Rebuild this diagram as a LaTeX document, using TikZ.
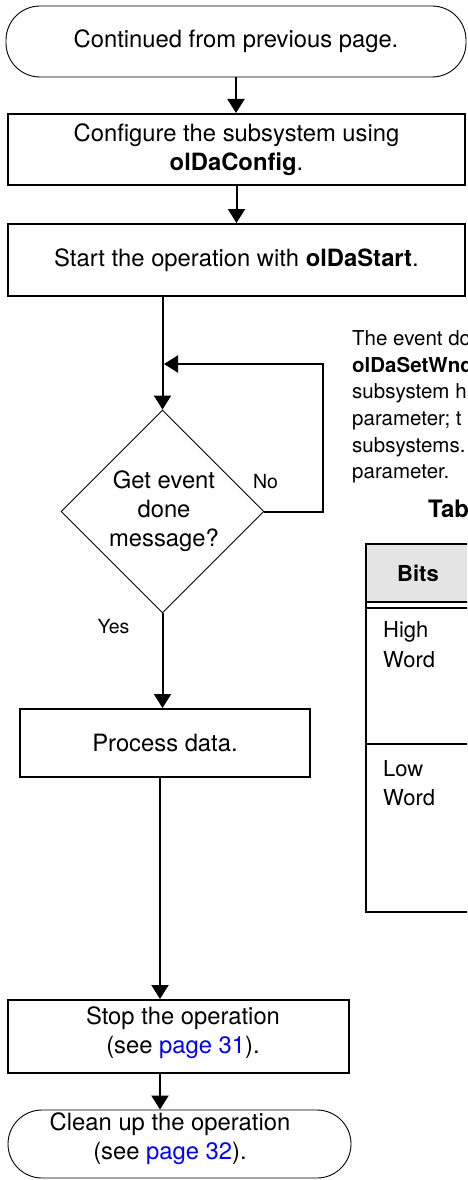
\documentclass[tikz,border=0pt]{standalone}
\usepackage{fontspec}
\setmainfont{TeX Gyre Heros}
\usetikzlibrary{shapes.geometric,arrows.meta}
\definecolor{linkblue}{RGB}{0,0,255}
\definecolor{headgray}{RGB}{229,229,229}
\begin{document}
\begin{tikzpicture}[x=1pt,y=-1pt,
  txt/.style={font=\fontsize{23.8}{29}\selectfont, align=center},
  procbox/.style={draw, line width=2pt, rectangle, inner sep=0pt, txt},
  term/.style={draw, line width=0.9pt, rounded corners=34pt, inner sep=0pt, txt},
  decision/.style={draw, line width=0.9pt, diamond, inner sep=0pt, minimum width=203pt, minimum height=203pt},
  arr/.style={line width=2pt, -{Triangle[length=14pt,width=17pt]}},
  lbl/.style={font=\fontsize{19.5}{23}\selectfont, inner sep=0pt},
  para/.style={font=\fontsize{20.5}{26.7}\selectfont, anchor=base west, inner sep=0pt},
  tbltxt/.style={font=\fontsize{22}{26}\selectfont, anchor=base west, inner sep=0pt},
]
\useasboundingbox (0,0) rectangle (467,1180);
\begin{scope}
\clip (0,0) rectangle (467,1180);

% flowchart nodes
\node[term, minimum width=460pt, minimum height=71pt] (start) at (236,41.5) {Continued from previous page.};
\node[procbox, minimum width=457pt, minimum height=71pt] (config) at (236.5,149.5) {Configure the subsystem using\\\textbf{olDaConfig}.};
\node[procbox, minimum width=457pt, minimum height=72pt] (startop) at (236.5,260) {Start the operation with \textbf{olDaStart}.};
\node[decision, label={[txt, xshift=1.5pt]center:Get event\\done\\message?}] (dec) at (162.5,511.5) {};
\node[lbl] (nolbl) at (265.5,482) {No};
\node[lbl] (yeslbl) at (113.5,627) {Yes};
\node[procbox, minimum width=290pt, minimum height=68pt] (proc) at (165,743) {Process data.};
\node[procbox, minimum width=341pt, minimum height=73pt, label={[txt, xshift=4.5pt, yshift=3.5pt]center:Stop the operation\\(see \textcolor{linkblue}{page 31}).}] (stop) at (178.5,1036.5) {};
\node[term, minimum width=343pt, minimum height=68pt, label={[txt, xshift=-9.5pt, yshift=5pt]center:Clean up the operation\\(see \textcolor{linkblue}{page 32}).}] (clean) at (179.5,1144) {};

% connectors
\coordinate (loopc) at (323,364);
\coordinate (loopin) at (164,364);
\coordinate (mainx) at (160,0);
\draw[arr] (start.south) -- (start.south |- config.north);
\draw[arr] (config.south) -- (config.south |- startop.north);
\draw[arr] (startop.south -| dec.north) -- (dec.north);
\draw[arr] (dec.east) -| (loopc) -- (loopin);
\draw[arr] (dec.south) -- (dec.south |- proc.north);
\draw[arr] (proc.south -| mainx) -- (stop.north -| mainx);
\draw[arr] (stop.south -| mainx) -- (clean.north -| mainx);

% right-hand text (cut off at the page edge)
\node[para] (p1) at (352,345) {The event do};
\node[para] (p2) at (352,372) {\textbf{olDaSetWnd}};
\node[para] (p3) at (352,398.5) {subsystem h};
\node[para] (p4) at (352,425) {parameter; t};
\node[para] (p5) at (352,452) {subsystems.};
\node[para] (p6) at (352,478.5) {parameter.};
\node[para, font=\bfseries\fontsize{24}{28}\selectfont] (tabhead) at (428,517) {Tab};

% table fragment
\fill[headgray] (366,544) rectangle (480,602);
\draw[line width=2pt] (480,544) -- (366,544) -- (366,912) -- (480,912);
\draw[line width=2pt] (366,602) -- (480,602);
\draw[line width=2pt] (366,608) -- (480,608);
\draw[line width=2pt] (366,744) -- (480,744);
\node[tbltxt, font=\bfseries\fontsize{22}{26}\selectfont] (bits) at (397,581) {Bits};
\node[tbltxt] (high) at (383,637) {High};
\node[tbltxt] (word1) at (383,667) {Word};
\node[tbltxt] (low) at (383,776) {Low};
\node[tbltxt] (word2) at (383,805) {Word};
\end{scope}
\end{tikzpicture}
\end{document}
